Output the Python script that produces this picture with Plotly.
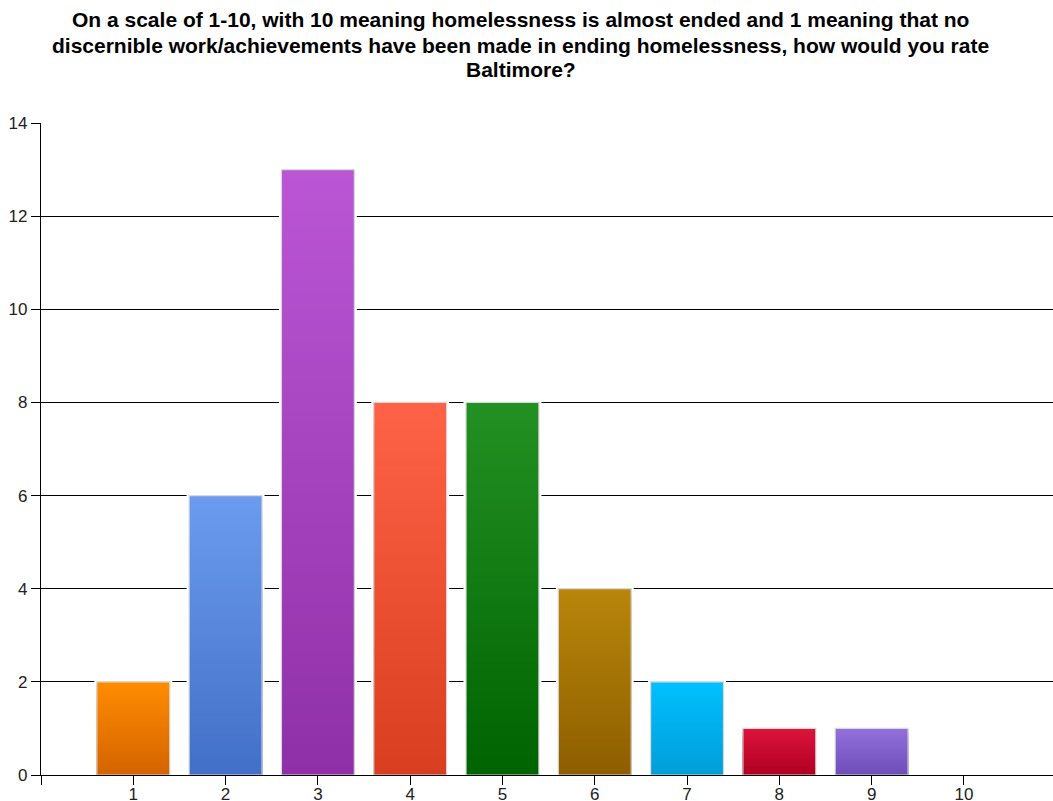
import plotly.graph_objects as go

# Survey responses: rating of Baltimore's progress on ending homelessness
ratings = [1, 2, 3, 4, 5, 6, 7, 8, 9, 10]
counts = [2, 6, 13, 8, 8, 4, 2, 1, 1, 0]

# Per-bar gradient colours (top, bottom)
top_colors = ["#FF8C00", "#6B9BEE", "#BA56D4", "#FF6347", "#239023",
              "#B8860B", "#00C0FF", "#DC143C", "#9370DB", "#999999"]
bottom_colors = ["#D46400", "#4270C8", "#9030A8", "#D83E20", "#006400",
                 "#8E5E00", "#009ED8", "#B00022", "#6E4EB8", "#777777"]

title_lines = [
    "On a scale of 1-10, with 10 meaning homelessness is almost ended and 1 meaning that no",
    "discernible work/achievements have been made in ending homelessness, how would you rate",
    "Baltimore?",
]

BAR_W = 0.79
N_STEPS = 60
PLOT_TOP, PLOT_BOTTOM = 123, 775
TITLE_LINE_Y = [20, 45, 70]   # pixel centres of the title lines


def hex_to_rgb(h):
    h = h.lstrip("#")
    return tuple(int(h[i:i + 2], 16) for i in (0, 2, 4))


def mix(c1, c2, t):
    a, b = hex_to_rgb(c1), hex_to_rgb(c2)
    return "rgb(%d,%d,%d)" % tuple(round(a[i] + (b[i] - a[i]) * t) for i in range(3))


fig = go.Figure()

# white halo so gridlines stop just short of each bar
fig.add_trace(go.Bar(
    x=ratings, y=[c if c > 0 else None for c in counts], width=BAR_W,
    marker=dict(color="white", line=dict(color="white", width=5)),
    hoverinfo="skip", showlegend=False,
))

# vertical gradient: successively shorter bars, each a shade darker
for k in range(N_STEPS):
    frac = (N_STEPS - k) / N_STEPS
    t = k / (N_STEPS - 1)
    fig.add_trace(go.Bar(
        x=ratings, y=[c * frac for c in counts], width=BAR_W,
        marker=dict(color=[mix(a, b, t) for a, b in zip(top_colors, bottom_colors)],
                    line=dict(width=0)),
        hoverinfo="skip", showlegend=False,
    ))

# thin light-grey outline
fig.add_trace(go.Bar(
    x=ratings, y=[c if c > 0 else None for c in counts], width=BAR_W,
    marker=dict(color="rgba(0,0,0,0)", line=dict(color="#d9d9d9", width=1.2)),
    hovertemplate="%{x}: %{y}<extra></extra>", showlegend=False,
))

plot_h = PLOT_BOTTOM - PLOT_TOP
title_annots = [
    dict(text="<b>" + line + "</b>", xref="paper", yref="paper",
         x=0.474, y=1 + (PLOT_TOP - ly) / plot_h,
         xanchor="center", yanchor="middle", showarrow=False,
         font=dict(size=21, color="black"))
    for line, ly in zip(title_lines, TITLE_LINE_Y)
]

fig.update_layout(
    width=1053, height=801,
    barmode="overlay",
    paper_bgcolor="white", plot_bgcolor="white",
    margin=dict(l=41, r=0, t=PLOT_TOP, b=801 - PLOT_BOTTOM, autoexpand=False),
    font=dict(family="Liberation Sans, Arial, sans-serif", color="#222222"),
    annotations=title_annots,
)

fig.update_xaxes(
    range=[0, 10.965], automargin=False,
    tickvals=[0] + ratings, ticktext=[""] + [str(r) for r in ratings],
    ticks="outside", ticklen=9, tickcolor="black", tickwidth=1.3,
    ticklabelstandoff=-6,
    showline=True, linecolor="black", linewidth=1.3,
    showgrid=False, zeroline=False, layer="above traces",
    tickfont=dict(size=17, color="#222222"),
)
fig.update_yaxes(
    range=[0, 14], dtick=2, automargin=False,
    ticks="outside", ticklen=9, tickcolor="black", tickwidth=1.3,
    showline=True, linecolor="black", linewidth=1.3,
    showgrid=True, gridcolor="black", gridwidth=1.3,
    zeroline=False, layer="above traces",
    tickfont=dict(size=17, color="#222222"),
)

fig.write_html("out.html")
